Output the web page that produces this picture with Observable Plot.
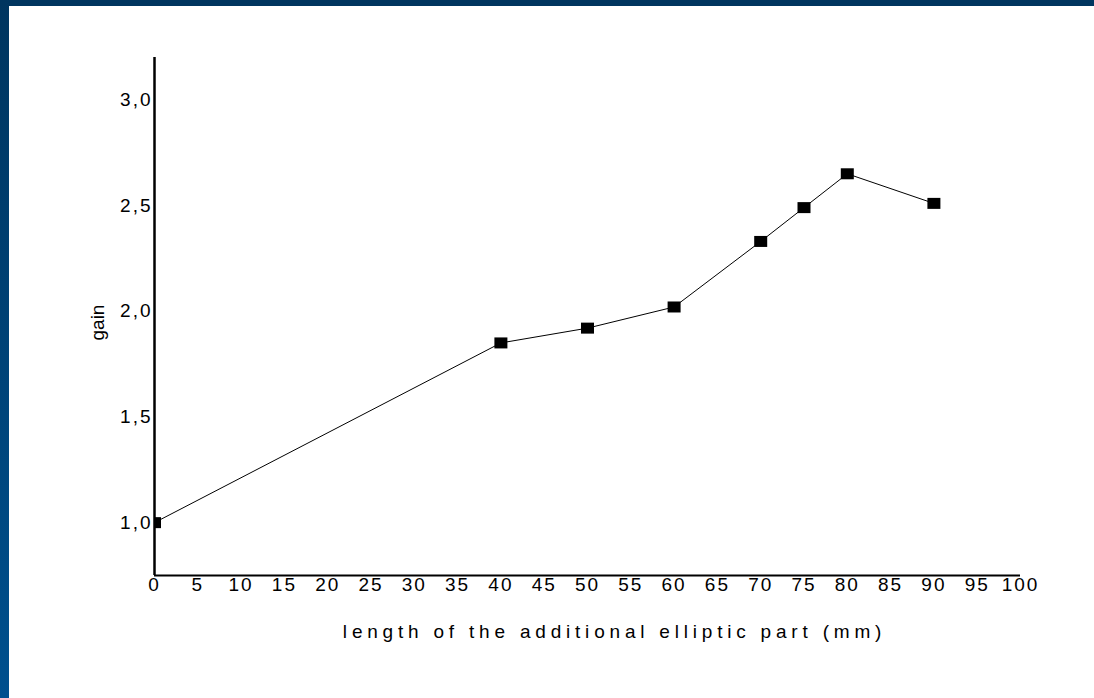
<!DOCTYPE html>
<html><head><meta charset="utf-8">
<script src="https://cdn.jsdelivr.net/npm/d3@7"></script>
<script src="https://cdn.jsdelivr.net/npm/@observablehq/plot@0.6"></script>
<style>
html,body{margin:0;padding:0;background:#fff;width:1094px;height:698px;overflow:hidden;position:relative}
#topband{position:absolute;left:0;top:0;width:1094px;height:6px;background:#00355f}
#leftband{position:absolute;left:0;top:0;width:9px;height:698px;background:linear-gradient(#00355f,#00508e)}
#chart{position:absolute;left:0;top:0}
#chart svg text{font-size:19px;font-family:'Liberation Sans',Arial,sans-serif;fill:#000}
#chart g[aria-label="x-axis tick label"] text,
#chart g[aria-label="y-axis tick label"] text{letter-spacing:2px}
#chart text.xtitle{letter-spacing:4.8px}
</style></head><body>
<div id="chart"></div><div id="topband"></div><div id="leftband"></div>
<script>
const lengths = [0, 40, 50, 60, 70, 75, 80, 90];
const gains = [1.0, 1.85, 1.92, 2.02, 2.33, 2.49, 2.65, 2.51];
const xTicks = [0, 5, 10, 15, 20, 25, 30, 35, 40, 45, 50, 55, 60, 65, 70, 75, 80, 85, 90, 95, 100];
const yTicks = [1.0, 1.5, 2.0, 2.5, 3.0];
const yTickLabels = ["1,0", "1,5", "2,0", "2,5", "3,0"];
const xTitle = "length of the additional elliptic part (mm)";
const yTitle = "gain";

const data = lengths.map((x, i) => ({x, y: gains[i]}));
const square = {draw(ctx) { ctx.moveTo(-6.5, -5.5); ctx.lineTo(6.5, -5.5); ctx.lineTo(6.5, 5.5); ctx.lineTo(-6.5, 5.5); ctx.closePath(); }};

const chart = Plot.plot({
  width: 1094, height: 698,
  marginLeft: 154, marginRight: 74, marginTop: 57, marginBottom: 123,
  x: {domain: [0, 100]},
  y: {domain: [0.75, 3.2]},
  style: {fontFamily: "'Liberation Sans', Arial, sans-serif", fontSize: "19px", color: "#000", background: "transparent"},
  marks: [
    Plot.axisX({ticks: xTicks, tickSize: 0, tickPadding: 2, label: null}),
    Plot.axisY({ticks: yTicks, tickSize: 0, tickPadding: 2, label: null,
      tickFormat: d => yTickLabels[yTicks.indexOf(d)]}),
    Plot.ruleX([0], {stroke: "#000", strokeWidth: 2.5}),
    Plot.ruleY([0.75], {stroke: "#000", strokeWidth: 2}),
    Plot.line(data, {x: "x", y: "y", stroke: "#000", strokeWidth: 1}),
    Plot.dot(data, {x: "x", y: "y", symbol: square, fill: "#000", stroke: "none", clip: true}),
    Plot.text([xTitle], {text: d => d, frameAnchor: "bottom", dy: 62, dx: 27, fill: "#000"}),
    Plot.text([yTitle], {text: d => d, frameAnchor: "left", dx: -57, dy: 24, rotate: -90, fill: "#000"})
  ]
});
d3.select(chart).selectAll("text").filter(function() { return this.textContent === xTitle; }).classed("xtitle", true);
document.getElementById("chart").appendChild(chart);
</script>
</body></html>
